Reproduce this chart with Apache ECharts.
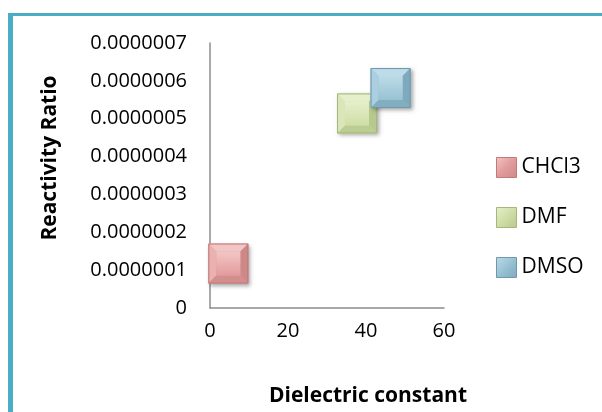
<!DOCTYPE html>
<html>
<head>
<meta charset="utf-8">
<script src="https://cdn.jsdelivr.net/npm/echarts@6/dist/echarts.min.js"></script>
<style>html,body{margin:0;padding:0;background:#fff;}#c{width:602px;height:412px;}</style>
</head>
<body>
<div id="c"></div>
<script>
var solvents = ['CHCl3', 'DMF', 'DMSO'];
var dielectric = [4.7, 37.7, 46.3];
var reactivity = [1.175e-7, 5.14e-7, 5.81e-7];
var palette = [
  {base:'#e29b9b', top:'#f3c6c6', left:'#eab1b1', right:'#cf8888', bottom:'#d38e8e', edge:'#bf7a7a'},
  {base:'#cfdea7', top:'#e6efcb', left:'#dae6b8', right:'#b7c98d', bottom:'#bccd93', edge:'#a6b67c'},
  {base:'#98c2d3', top:'#bddbe8', left:'#abcfde', right:'#7fa9bc', bottom:'#83adc0', edge:'#6f98aa'}
];

function bevelRender(pal){
  return function(params, api){
    var p = api.coord([api.value(0), api.value(1)]);
    var s = 40, h = s/2, b = 8;
    var x0 = p[0]-h, y0 = p[1]-h, x1 = p[0]+h, y1 = p[1]+h;
    var ix0 = x0+b, iy0 = y0+b, ix1 = x1-b, iy1 = y1-b;
    return {
      type:'group',
      children:[
        {type:'rect', shape:{x:x0,y:y0,width:s,height:s},
          style:{fill:pal.base, shadowBlur:4, shadowOffsetX:2, shadowOffsetY:2, shadowColor:'rgba(0,0,0,0.35)'}},
        {type:'polygon', shape:{points:[[x0,y0],[x1,y0],[ix1,iy0],[ix0,iy0]]}, style:{fill:pal.top}},
        {type:'polygon', shape:{points:[[x0,y0],[ix0,iy0],[ix0,iy1],[x0,y1]]}, style:{fill:pal.left}},
        {type:'polygon', shape:{points:[[x1,y0],[x1,y1],[ix1,iy1],[ix1,iy0]]}, style:{fill:pal.right}},
        {type:'polygon', shape:{points:[[x0,y1],[ix0,iy1],[ix1,iy1],[x1,y1]]}, style:{fill:pal.bottom}},
        {type:'rect', shape:{x:ix0,y:iy0,width:s-2*b,height:s-2*b},
          style:{fill:{type:'linear',x:0,y:0,x2:0,y2:1,colorStops:[{offset:0,color:pal.top},{offset:1,color:pal.base}]}}},
        {type:'rect', shape:{x:x0+0.5,y:y0+0.5,width:s-1,height:s-1}, style:{fill:'none', stroke:pal.edge, lineWidth:1}}
      ]
    };
  };
}

var series = solvents.map(function(name, i){
  return {
    name: name,
    type: 'custom',
    renderItem: bevelRender(palette[i]),
    itemStyle: {color: palette[i].base},
    data: [[dielectric[i], reactivity[i]]],
    encode: {x:0, y:1}
  };
});

var legendData = solvents.map(function(name, i){
  return {
    name: name,
    itemStyle: {
      color: {type:'linear', x:0, y:0, x2:1, y2:1, colorStops:[
        {offset:0, color:palette[i].top}, {offset:0.5, color:palette[i].base}, {offset:1, color:palette[i].right}]},
      borderColor: palette[i].edge, borderWidth: 1
    }
  };
});

var chart = echarts.init(document.getElementById('c'), null, {renderer:'canvas'});
chart.setOption({
  animation:false,
  backgroundColor:'#ffffff',
  textStyle:{fontFamily:'Open Sans'},
  grid:{left:210, right:158, top:43, bottom:104, containLabel:false},
  xAxis:{
    type:'value', min:0, max:60, interval:20,
    axisLine:{show:true, onZero:false, lineStyle:{color:'#8c8c8c', width:1.5}},
    axisTick:{show:false},
    splitLine:{show:false},
    axisLabel:{color:'#000', fontSize:20, fontFamily:'Open Sans', margin:13}
  },
  yAxis:{
    type:'value', min:0, max:7e-7, interval:1e-7,
    axisLine:{show:true, lineStyle:{color:'#8c8c8c', width:1.5}},
    axisTick:{show:false},
    splitLine:{show:false},
    axisLabel:{color:'#000', fontSize:20, fontFamily:'Open Sans', margin:23,
      formatter:function(v){ return v === 0 ? '0' : v.toFixed(7); }}
  },
  legend:{
    orient:'vertical', left:496, top:157, itemWidth:20, itemHeight:20, itemGap:29, padding:0,
    icon:'rect',
    textStyle:{color:'#000', fontSize:21, fontFamily:'Open Sans', padding:[0,0,0,0]},
    data: legendData
  },
  graphic:[
    {type:'rect', shape:{x:8,y:13,width:594,height:3}, style:{fill:'#4bacc6'}, silent:true},
    {type:'rect', shape:{x:8,y:13,width:5,height:399}, style:{fill:'#4bacc6'}, silent:true},
    {type:'text', x:368, y:396, style:{text:'Dielectric constant', fill:'#000', font:'bold 21px "Open Sans"', textAlign:'center', textVerticalAlign:'middle'}},
    {type:'text', x:50, y:158, rotation:Math.PI/2, style:{text:'Reactivity Ratio', fill:'#000', font:'bold 21px "Open Sans"', textAlign:'center', textVerticalAlign:'middle'}}
  ],
  series: series
});
</script>
</body>
</html>
